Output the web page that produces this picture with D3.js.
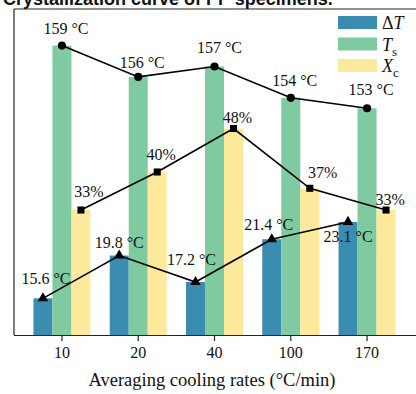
<!DOCTYPE html>
<html>
<head>
<meta charset="utf-8">
<script src="https://cdn.jsdelivr.net/npm/d3@7"></script>
<style>
  html, body { margin: 0; padding: 0; background: #fff; }
  svg { display: block; }
  .serif { font-family: "Liberation Serif", "Times New Roman", Times, serif; }
</style>
</head>
<body>
<div id="chart"></div>
<script>
// Cooling-rate categories (°C/min)
const categories = ["10", "20", "40", "100", "170"];
// Degree of supercooling ΔT (°C)
const deltaT = [15.6, 19.8, 17.2, 21.4, 23.1];
// Crystallization onset temperature Ts (°C)
const onsetT = [159, 156, 157, 154, 153];
// Crystallinity Xc (%)
const crystallinity = [33, 40, 48, 37, 33];
const seriesKeys = ["dT", "Ts", "Xc"];

const W = 416, H = 394;
const colors = { dT: "#3a8db0", Ts: "#7fcaa0", Xc: "#fce99c" };

const svg = d3.select("#chart").append("svg")
  .attr("width", W).attr("height", H);

// Plot frame
const plotLeft = 14, plotRight = 415, plotTop = 9, plotBottom = 335;

const x = d3.scaleBand()
  .domain(categories)
  .range([plotLeft, plotRight])
  .paddingInner(0.2525)
  .paddingOuter(0.255);

const xSub = d3.scaleBand()
  .domain(seriesKeys)
  .range([0, x.bandwidth()]);

// Each series has its own (hidden) value axis
const yDT = d3.scaleLinear().domain([12, 44]).range([plotBottom, plotTop]);
const yTs = d3.scaleLinear().domain([131.3, 162.5]).range([plotBottom, plotTop]);
const yXc = d3.scaleLinear().domain([10, 70]).range([plotBottom, plotTop]);

const series = [
  { key: "dT", values: deltaT, y: yDT },
  { key: "Ts", values: onsetT, y: yTs },
  { key: "Xc", values: crystallinity, y: yXc }
];

// Bars
series.forEach(s => {
  svg.append("g").selectAll("rect")
    .data(categories.map((c, i) => ({ c, v: s.values[i] })))
    .join("rect")
    .attr("x", d => x(d.c) + xSub(s.key))
    .attr("width", xSub.bandwidth())
    .attr("y", d => s.y(d.v))
    .attr("height", d => plotBottom - s.y(d.v))
    .attr("fill", colors[s.key]);
});

// Frame lines
svg.append("line").attr("x1", plotLeft).attr("x2", plotLeft).attr("y1", plotTop).attr("y2", plotBottom)
  .attr("stroke", "#222").attr("stroke-width", 1.2);
svg.append("line").attr("x1", plotLeft).attr("x2", W).attr("y1", plotTop).attr("y2", plotTop)
  .attr("stroke", "#222").attr("stroke-width", 1.2);

// X axis
const xAxis = svg.append("g")
  .attr("transform", `translate(0,${plotBottom})`)
  .call(d3.axisBottom(x).tickSizeOuter(0).tickSize(6).tickPadding(6));
xAxis.select(".domain").attr("stroke", "#222").attr("stroke-width", 1.2)
  .attr("d", `M${plotLeft},0.5H${W}`);
xAxis.selectAll(".tick line").attr("stroke", "#222").attr("stroke-width", 1.2);
xAxis.selectAll(".tick text")
  .attr("class", "serif")
  .style("font-size", "16px")
  .attr("fill", "#111");

svg.append("text")
  .attr("class", "serif")
  .attr("x", 212).attr("y", 386)
  .attr("text-anchor", "middle")
  .style("font-size", "18.5px")
  .attr("fill", "#111")
  .text("Averaging cooling rates (°C/min)");

// Trend lines with markers, placed at each bar's centre
const cx = key => c => x(c) + xSub(key) + xSub.bandwidth() / 2;

const markerType = { dT: d3.symbolTriangle, Ts: d3.symbolCircle, Xc: d3.symbolSquare };
const markerSize = { dT: 48, Ts: 52, Xc: 50 };

// Label offsets from each marker [dx, dy]
const labelNudge = {
  dT: [[3, -14], [0, -8], [-4, -17], [-3, -9], [0, 20]],
  Ts: [[4, -12], [4, -9], [5, -13], [4, -12], [4, -13]],
  Xc: [[8, -13], [4, -12], [4, -6], [13, -10], [4, -5]]
};
const fmt = {
  dT: v => `${v.toFixed(1)} °C`,
  Ts: v => `${v} °C`,
  Xc: v => `${v}%`
};

series.forEach(s => {
  const pts = categories.map((c, i) => [cx(s.key)(c), s.y(s.values[i])]);
  svg.append("path")
    .attr("d", d3.line()(pts))
    .attr("fill", "none")
    .attr("stroke", "#000")
    .attr("stroke-width", 1.6);
  svg.append("g").selectAll("path")
    .data(pts)
    .join("path")
    .attr("transform", d => `translate(${d[0]},${d[1]})`)
    .attr("d", d3.symbol(markerType[s.key], markerSize[s.key]))
    .attr("fill", "#000");
  svg.append("g").selectAll("text")
    .data(pts)
    .join("text")
    .attr("class", "serif")
    .attr("x", (d, i) => d[0] + labelNudge[s.key][i][0])
    .attr("y", (d, i) => d[1] + labelNudge[s.key][i][1])
    .attr("text-anchor", "middle")
    .style("font-size", "16px")
    .attr("fill", "#111")
    .text((d, i) => fmt[s.key](s.values[i]));
});

// Legend
const legend = svg.append("g").attr("transform", "translate(338,16)");
const legendItems = [
  { key: "dT", main: "\u0394", ital: "T", sub: "" },
  { key: "Ts", main: "", ital: "T", sub: "s" },
  { key: "Xc", main: "", ital: "X", sub: "c" }
];
legendItems.forEach((d, i) => {
  const g = legend.append("g").attr("transform", `translate(0,${i * 21.5})`);
  g.append("rect").attr("width", 39).attr("height", 13).attr("fill", colors[d.key]);
  const t = g.append("text").attr("class", "serif")
    .attr("x", 44).attr("y", 13)
    .style("font-size", "18px").attr("fill", "#111");
  if (d.main) t.append("tspan").text(d.main);
  t.append("tspan").style("font-style", "italic").text(d.ital);
  if (d.sub) t.append("tspan").attr("dy", 5).style("font-size", "13px").text(d.sub);
});

// Title (partly above the visible area)
svg.append("text")
  .attr("x", 3).attr("y", 5)
  .style("font-family", "'Liberation Sans', Arial, sans-serif")
  .style("font-weight", "bold")
  .style("font-size", "18px")
  .attr("fill", "#111")
  .text("Crystallization curve of PP specimens.");
</script>
</body>
</html>
